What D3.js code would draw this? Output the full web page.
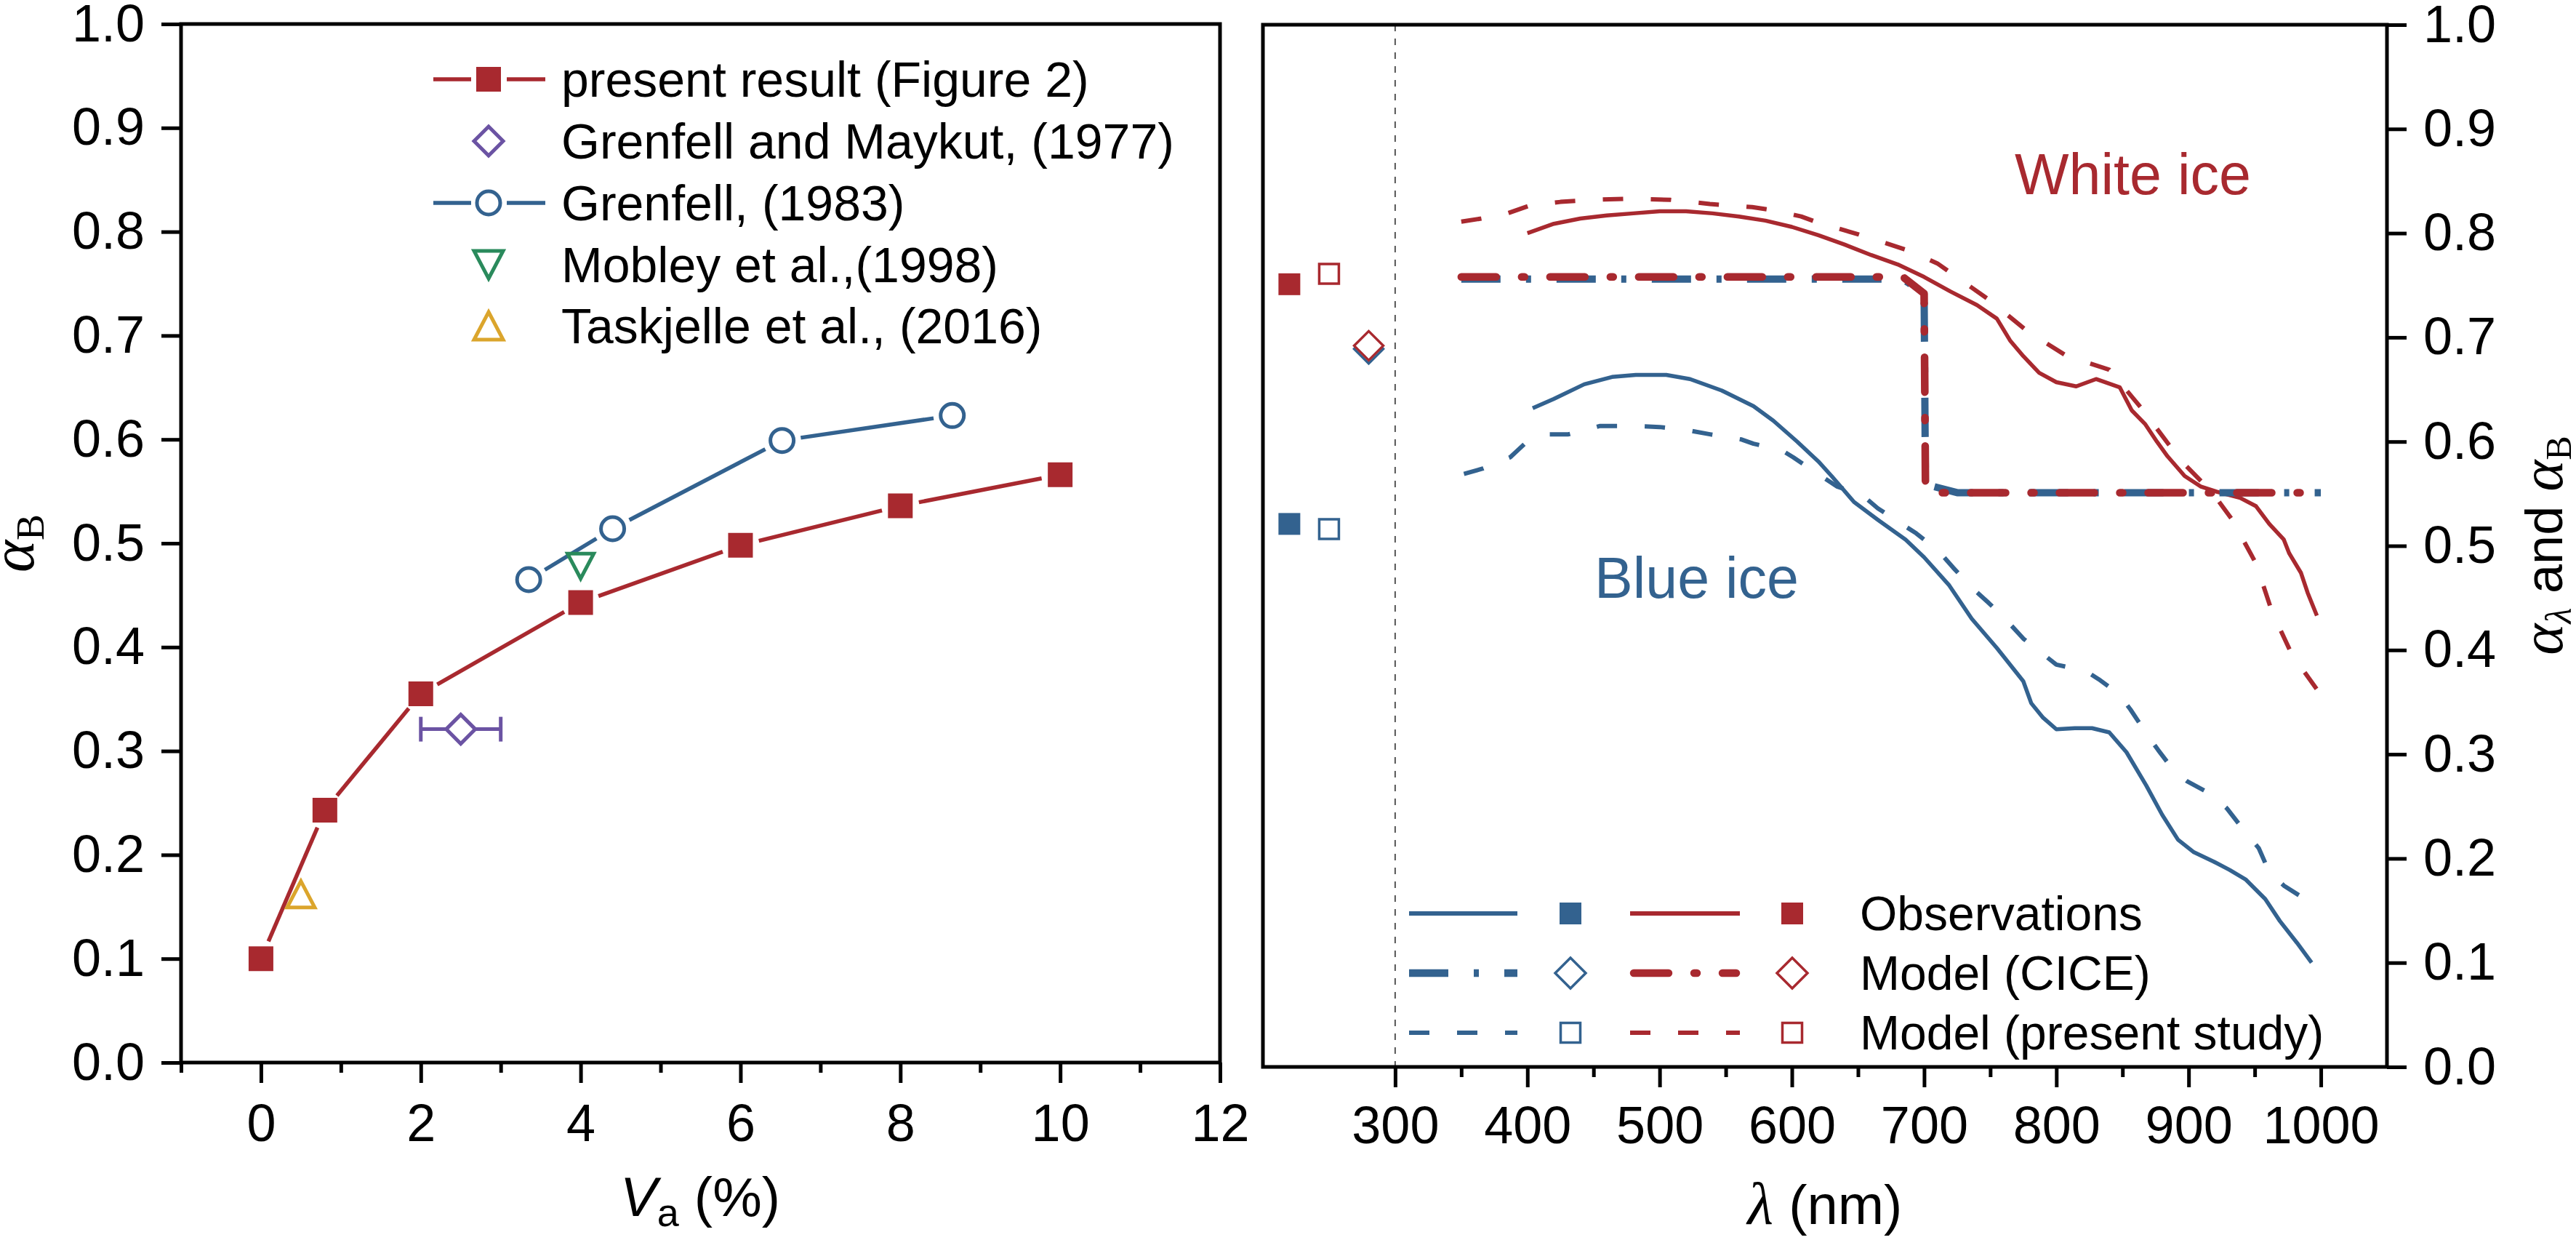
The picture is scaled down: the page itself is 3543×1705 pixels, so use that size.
<!DOCTYPE html>
<html>
<head>
<meta charset="utf-8">
<script src="https://cdn.jsdelivr.net/npm/d3@7"></script>
<style>
  body { margin: 0; background: #fff; }
  svg { display: block; }
  text { font-family: 'Liberation Sans', Arial, sans-serif; fill: #000; }
</style>
</head>
<body>
<svg id="chart" width="3543" height="1705"></svg>
<script>
// left panel: broadband albedo against air volume fraction
const presentVa = [0, 0.8, 2, 4, 6, 8, 10];
const presentAlpha = [0.100, 0.243, 0.355, 0.443, 0.498, 0.536, 0.566];
const grenfell83Va = [3.35, 4.40, 6.52, 8.65];
const grenfell83Alpha = [0.465, 0.514, 0.599, 0.623];
const grenfellMaykutVa = [2.5];
const grenfellMaykutAlpha = [0.321];
const grenfellMaykutErr = [0.5];
const mobleyVa = [4.0];
const mobleyAlpha = [0.478];
const taskjelleVa = [0.5];
const taskjelleAlpha = [0.162];

const leftXTicks = [0, 2, 4, 6, 8, 10, 12];
const leftXMinor = [-1, 1, 3, 5, 7, 9, 11];
const albedoTicks = [0, 0.1, 0.2, 0.3, 0.4, 0.5, 0.6, 0.7, 0.8, 0.9, 1.0];
const leftLegend = ['present result (Figure 2)', 'Grenfell and Maykut, (1977)', 'Grenfell, (1983)',
    'Mobley et al.,(1998)', 'Taskjelle et al., (2016)'];

// right panel: spectral albedo, white ice (red) and blue ice (blue)
const whiteObsWl = [400, 420, 440, 460, 480, 500, 520, 540, 560, 580, 600, 620, 640, 660, 680, 700, 720, 740, 755, 765,
    775, 787, 800, 815, 830, 848, 857, 867, 876, 884, 897, 909, 921, 939, 951, 961, 972, 976, 985, 990, 997];
const whiteObs = [0.800, 0.809, 0.814, 0.817, 0.819, 0.821, 0.821, 0.819, 0.816, 0.812, 0.806, 0.798, 0.789, 0.779, 0.770,
    0.758, 0.744, 0.731, 0.718, 0.697, 0.682, 0.666, 0.657, 0.653, 0.660, 0.652, 0.630, 0.617, 0.600, 0.586, 0.567, 0.557,
    0.552, 0.546, 0.538, 0.521, 0.506, 0.493, 0.474, 0.455, 0.433];

const whiteModelWl = [350, 365, 385, 403, 425, 450, 476, 508, 538, 570, 586, 607, 620, 650, 689, 710, 748, 778, 808, 840,
    865, 894, 918, 933, 951, 963, 978, 1000];
const whiteModel = [0.811, 0.814, 0.819, 0.827, 0.830, 0.832, 0.833, 0.832, 0.828, 0.825, 0.822, 0.816, 0.810, 0.799,
    0.783, 0.771, 0.737, 0.706, 0.682, 0.669, 0.631, 0.582, 0.551, 0.525, 0.483, 0.437, 0.396, 0.357];

const whiteCiceWl = [350, 684, 700, 701, 704, 1000];
const whiteCice = [0.758, 0.758, 0.742, 0.562, 0.551, 0.551];

const blueObsWl = [404, 420, 443, 464, 482, 505, 523, 547, 571, 586, 604, 620, 630, 647, 665, 686, 700, 719, 736, 755,
    775, 781, 790, 800, 814, 827, 840, 853, 868, 880, 892, 904, 919, 931, 943, 958, 969, 982, 993];
const blueObs = [0.632, 0.641, 0.655, 0.662, 0.664, 0.664, 0.660, 0.649, 0.634, 0.620, 0.600, 0.581, 0.567, 0.542, 0.525,
    0.506, 0.489, 0.462, 0.430, 0.402, 0.370, 0.349, 0.335, 0.324, 0.325, 0.325, 0.321, 0.302, 0.270, 0.242, 0.218, 0.206,
    0.197, 0.189, 0.180, 0.161, 0.140, 0.119, 0.100];

const blueModelWl = [352, 366, 387, 398, 416, 431, 455, 479, 500, 521, 538, 562, 571, 592, 601, 622, 634, 653, 665, 683,
    694, 711, 722, 736, 749, 762, 775, 790, 800, 822, 832, 847, 856, 868, 877, 889, 899, 918, 929, 943, 953, 961, 972, 993, 1000];
const blueModel = [0.569, 0.574, 0.585, 0.598, 0.607, 0.607, 0.615, 0.615, 0.614, 0.611, 0.607, 0.602, 0.598, 0.592, 0.585,
    0.567, 0.557, 0.549, 0.536, 0.521, 0.512, 0.495, 0.479, 0.460, 0.445, 0.429, 0.411, 0.396, 0.386, 0.380, 0.372, 0.358,
    0.343, 0.320, 0.304, 0.284, 0.274, 0.261, 0.248, 0.225, 0.210, 0.187, 0.174, 0.157, 0.150];

const blueCiceWl = [350, 684, 700, 701, 704, 725, 1000];
const blueCice = [0.756, 0.756, 0.742, 0.560, 0.558, 0.551, 0.551];

// broadband values drawn left of 300 nm: observations, present model, CICE
const broadbandWl = [220, 250, 280];
const whiteBroadband = [0.751, 0.761, 0.692];
const blueBroadband = [0.521, 0.516, 0.689];

const wlTicks = [300, 400, 500, 600, 700, 800, 900, 1000];
const wlMinor = [350, 450, 550, 650, 750, 850, 950];
const rightLegend = ['Observations', 'Model (CICE)', 'Model (present study)'];

const RED = '#a8292f', BLUE = '#33628f', PURPLE = '#6b53a3', GREEN = '#2a8a5c', GOLD = '#dba52c';
const SANS = 'Liberation Sans, Arial, sans-serif';
const SERIF = 'Liberation Serif, Times New Roman, serif';

const svg = d3.select('#chart');

const xL = d3.scaleLinear().domain([-1, 12]).range([249, 1678]);
const yL = d3.scaleLinear().domain([0, 1]).range([1461, 33]);
const xR = d3.scaleLinear().domain([200, 1050]).range([1737, 3283]);
const yR = d3.scaleLinear().domain([0, 1]).range([1467, 34]);

function markerPath(type, s) {
    let h = s / 2;
    if (type === 'square') return `M${-h},${-h}H${h}V${h}H${-h}Z`;
    if (type === 'diamond') return `M0,${-h}L${h},0L0,${h}L${-h},0Z`;
    if (type === 'triUp') return `M0,${-h * 0.95}L${h},${h * 0.95}L${-h},${h * 0.95}Z`;
    if (type === 'triDown') return `M0,${h * 0.95}L${h},${-h * 0.95}L${-h},${-h * 0.95}Z`;
    return '';
}

function marker(g, cx, cy, type, size, fill, stroke, sw) {
    if (type === 'circle') {
        g.append('circle').attr('cx', cx).attr('cy', cy).attr('r', size / 2)
            .attr('fill', fill).attr('stroke', stroke).attr('stroke-width', sw);
        return;
    }
    g.append('path').attr('d', markerPath(type, size))
        .attr('transform', `translate(${cx},${cy})`)
        .attr('fill', fill).attr('stroke', stroke).attr('stroke-width', sw)
        .attr('stroke-linejoin', 'miter');
}

// connecting line that stops short of each symbol (Origin style)
function gapLine(g, xs, ys, x, y, gap, color, width) {
    for (let i = 0; i < xs.length - 1; i++) {
        let x0 = x(xs[i]), y0 = y(ys[i]), x1 = x(xs[i + 1]), y1 = y(ys[i + 1]);
        let len = Math.hypot(x1 - x0, y1 - y0);
        let ux = (x1 - x0) / len, uy = (y1 - y0) / len;
        g.append('line')
            .attr('x1', x0 + ux * gap).attr('y1', y0 + uy * gap)
            .attr('x2', x1 - ux * gap).attr('y2', y1 - uy * gap)
            .attr('stroke', color).attr('stroke-width', width);
    }
}

function styleAxis(sel, size) {
    sel.select('.domain').remove();
    sel.selectAll('line').attr('stroke', '#000').attr('stroke-width', 5);
    sel.selectAll('text').attr('font-size', size).attr('font-family', SANS).attr('fill', '#000');
}

function drawFrame(x, y) {
    svg.append('rect')
        .attr('x', x.range()[0]).attr('y', y.range()[1])
        .attr('width', x.range()[1] - x.range()[0])
        .attr('height', y.range()[0] - y.range()[1])
        .attr('fill', 'none').attr('stroke', '#000').attr('stroke-width', 5);
}

// ---------------- left panel ----------------
let left = svg.append('g');

left.append('g').attr('transform', `translate(${xL.range()[0]},0)`)
    .call(d3.axisLeft(yL).tickValues(albedoTicks).tickFormat(d3.format('.1f')).tickSize(27).tickPadding(23))
    .call(s => styleAxis(s, 72));
left.append('g').attr('transform', `translate(0,${yL.range()[0]})`)
    .call(d3.axisBottom(xL).tickValues(leftXTicks).tickFormat(d3.format('d')).tickSize(28).tickPadding(29))
    .call(s => styleAxis(s, 72));
left.append('g').attr('transform', `translate(0,${yL.range()[0]})`)
    .call(d3.axisBottom(xL).tickValues(leftXMinor).tickFormat('').tickSize(14))
    .call(s => styleAxis(s, 72));
drawFrame(xL, yL);

// Grenfell and Maykut error bar
grenfellMaykutVa.forEach((v, i) => {
    let yy = yL(grenfellMaykutAlpha[i]);
    let xa = xL(v - grenfellMaykutErr[i]), xb = xL(v + grenfellMaykutErr[i]);
    left.append('line').attr('x1', xa).attr('x2', xb).attr('y1', yy).attr('y2', yy)
        .attr('stroke', PURPLE).attr('stroke-width', 5);
    [xa, xb].forEach(xx => left.append('line').attr('x1', xx).attr('x2', xx)
        .attr('y1', yy - 17).attr('y2', yy + 17).attr('stroke', PURPLE).attr('stroke-width', 5));
    marker(left, xL(v), yy, 'diamond', 40, '#fff', PURPLE, 5);
});

gapLine(left, presentVa, presentAlpha, xL, yL, 26, RED, 5.5);
gapLine(left, grenfell83Va, grenfell83Alpha, xL, yL, 26, BLUE, 5.5);
presentVa.forEach((v, i) => marker(left, xL(v), yL(presentAlpha[i]), 'square', 34, RED, 'none', 0));
grenfell83Va.forEach((v, i) => marker(left, xL(v), yL(grenfell83Alpha[i]), 'circle', 32, '#fff', BLUE, 5));
mobleyVa.forEach((v, i) => marker(left, xL(v), yL(mobleyAlpha[i]), 'triDown', 36, '#fff', GREEN, 5));
taskjelleVa.forEach((v, i) => marker(left, xL(v), yL(taskjelleAlpha[i]), 'triUp', 38, '#fff', GOLD, 5));

// left legend
const leftRows = [109, 194, 279, 364, 448];
const leftSyms = [
    {type: 'square', fill: RED, stroke: 'none', line: RED},
    {type: 'diamond', fill: '#fff', stroke: PURPLE, line: null},
    {type: 'circle', fill: '#fff', stroke: BLUE, line: BLUE},
    {type: 'triDown', fill: '#fff', stroke: GREEN, line: null},
    {type: 'triUp', fill: '#fff', stroke: GOLD, line: null}
];
leftLegend.forEach((label, i) => {
    let yy = leftRows[i], s = leftSyms[i];
    if (s.line) {
        left.append('line').attr('x1', 596).attr('x2', 648).attr('y1', yy).attr('y2', yy)
            .attr('stroke', s.line).attr('stroke-width', 5.5);
        left.append('line').attr('x1', 697).attr('x2', 750).attr('y1', yy).attr('y2', yy)
            .attr('stroke', s.line).attr('stroke-width', 5.5);
    }
    let size = s.type === 'square' ? 34 : s.type === 'circle' ? 32 : 40;
    marker(left, 672, yy, s.type, size, s.fill, s.stroke, s.stroke === 'none' ? 0 : 5);
    left.append('text').attr('x', 772).attr('y', yy + 24).attr('font-size', 68).text(label);
});

// left axis titles
let yTitleL = left.append('text').attr('transform', 'translate(46,747) rotate(-90)')
    .attr('text-anchor', 'middle');
yTitleL.append('tspan').attr('font-family', SERIF).attr('font-style', 'italic').attr('font-size', 84).text('α');
yTitleL.append('tspan').attr('font-family', SERIF).attr('font-size', 54).attr('dy', 14).text('B');

let xTitleL = left.append('text').attr('x', 963).attr('y', 1672).attr('text-anchor', 'middle').attr('font-size', 76);
xTitleL.append('tspan').attr('font-style', 'italic').text('V');
xTitleL.append('tspan').attr('font-size', 54).attr('dy', 14).text('a');
xTitleL.append('tspan').attr('dy', -14).text(' (%)');

// ---------------- right panel ----------------
let right = svg.append('g');

right.append('g').attr('transform', `translate(${xR.range()[1]},0)`)
    .call(d3.axisRight(yR).tickValues(albedoTicks).tickFormat(d3.format('.1f')).tickSize(27).tickPadding(23))
    .call(s => styleAxis(s, 72));
right.append('g').attr('transform', `translate(0,${yR.range()[0]})`)
    .call(d3.axisBottom(xR).tickValues(wlTicks).tickFormat(d3.format('d')).tickSize(28).tickPadding(26))
    .call(s => styleAxis(s, 72));
right.append('g').attr('transform', `translate(0,${yR.range()[0]})`)
    .call(d3.axisBottom(xR).tickValues(wlMinor).tickFormat('').tickSize(14))
    .call(s => styleAxis(s, 72));

right.append('line')
    .attr('x1', xR(300)).attr('x2', xR(300)).attr('y1', yR(1)).attr('y2', yR(0))
    .attr('stroke', '#555').attr('stroke-width', 2).attr('stroke-dasharray', '9,10');

const line = (xs, ys) => d3.line().x((d, i) => xR(xs[i])).y((d, i) => yR(ys[i]))(xs);

const dashModel = '28,38', dashCiceBlue = '54,35,7,35', dashCiceRed = '48,35,4,35';

function series(d, color, width, dash, cap) {
    right.append('path').attr('d', d).attr('fill', 'none')
        .attr('stroke', color).attr('stroke-width', width)
        .attr('stroke-dasharray', dash).attr('stroke-linecap', cap || 'butt')
        .attr('stroke-linejoin', 'round');
}

series(line(blueModelWl, blueModel), BLUE, 6, dashModel);
series(line(blueObsWl, blueObs), BLUE, 5.5, null);
series(line(whiteModelWl, whiteModel), RED, 6, dashModel);
series(line(whiteObsWl, whiteObs), RED, 5.5, null);
series(line(blueCiceWl, blueCice), BLUE, 10, dashCiceBlue);
series(line(whiteCiceWl, whiteCice), RED, 10.5, dashCiceRed, 'round');

// symbols: observations, present model, CICE (same order as broadbandWl)
const bbTypes = [
    {type: 'square', filled: true, size: 30},
    {type: 'square', filled: false, size: 27},
    {type: 'diamond', filled: false, size: 40}
];
[[blueBroadband, BLUE], [whiteBroadband, RED]].forEach(([vals, color]) => {
    broadbandWl.forEach((wl, i) => {
        let t = bbTypes[i];
        marker(right, xR(wl), yR(vals[i]), t.type, t.size,
            t.filled ? color : '#fff', t.filled ? 'none' : color, t.filled ? 0 : 3.5);
    });
});

drawFrame(xR, yR);

right.append('text').attr('x', 2771).attr('y', 267).attr('font-size', 79).style('fill', RED).text('White ice');
right.append('text').attr('x', 2193).attr('y', 822).attr('font-size', 79).style('fill', BLUE).text('Blue ice');

// right legend: rows are Observations, CICE, present study
const rightRows = [1256, 1338, 1420];
const legendSym = [bbTypes[0], bbTypes[2], bbTypes[1]];
const legendStyles = [
    {blue: null, red: null, width: 6},
    {blue: dashCiceBlue, red: dashCiceRed, width: 10.5},
    {blue: dashModel, red: dashModel, width: 6}
];
rightLegend.forEach((label, i) => {
    let yy = rightRows[i], st = legendStyles[i], t = legendSym[i];
    right.append('line').attr('x1', 1938).attr('x2', 2087).attr('y1', yy).attr('y2', yy)
        .attr('stroke', BLUE).attr('stroke-width', st.width).attr('stroke-dasharray', st.blue);
    right.append('line').attr('x1', i === 1 ? 2247 : 2242).attr('x2', i === 1 ? 2388 : 2393).attr('y1', yy).attr('y2', yy)
        .attr('stroke', RED).attr('stroke-width', st.width).attr('stroke-dasharray', st.red)
        .attr('stroke-linecap', i === 1 ? 'round' : 'butt');
    let sz = t.type === 'diamond' ? 42 : t.size;
    marker(right, 2160, yy, t.type, sz, t.filled ? BLUE : '#fff', t.filled ? 'none' : BLUE, t.filled ? 0 : 3.5);
    marker(right, 2465, yy, t.type, sz, t.filled ? RED : '#fff', t.filled ? 'none' : RED, t.filled ? 0 : 3.5);
    right.append('text').attr('x', 2558).attr('y', yy + 23).attr('font-size', 66).text(label);
});

// right axis titles
let xTitleR = right.append('text').attr('x', 2510).attr('y', 1683).attr('text-anchor', 'middle').attr('font-size', 76);
xTitleR.append('tspan').attr('font-family', SERIF).attr('font-style', 'italic').attr('font-size', 82).text('λ');
xTitleR.append('tspan').text(' (nm)');

let yTitleR = right.append('text').attr('transform', 'translate(3524,750) rotate(-90)')
    .attr('text-anchor', 'middle');
yTitleR.append('tspan').attr('font-family', SERIF).attr('font-style', 'italic').attr('font-size', 82).text('α');
yTitleR.append('tspan').attr('font-family', SERIF).attr('font-style', 'italic').attr('font-size', 50).attr('dy', 12).text('λ');
yTitleR.append('tspan').attr('font-size', 72).attr('dy', -12).text(' and ');
yTitleR.append('tspan').attr('font-family', SERIF).attr('font-style', 'italic').attr('font-size', 82).text('α');
yTitleR.append('tspan').attr('font-family', SERIF).attr('font-size', 50).attr('dy', 12).text('B');
</script>
</body>
</html>
